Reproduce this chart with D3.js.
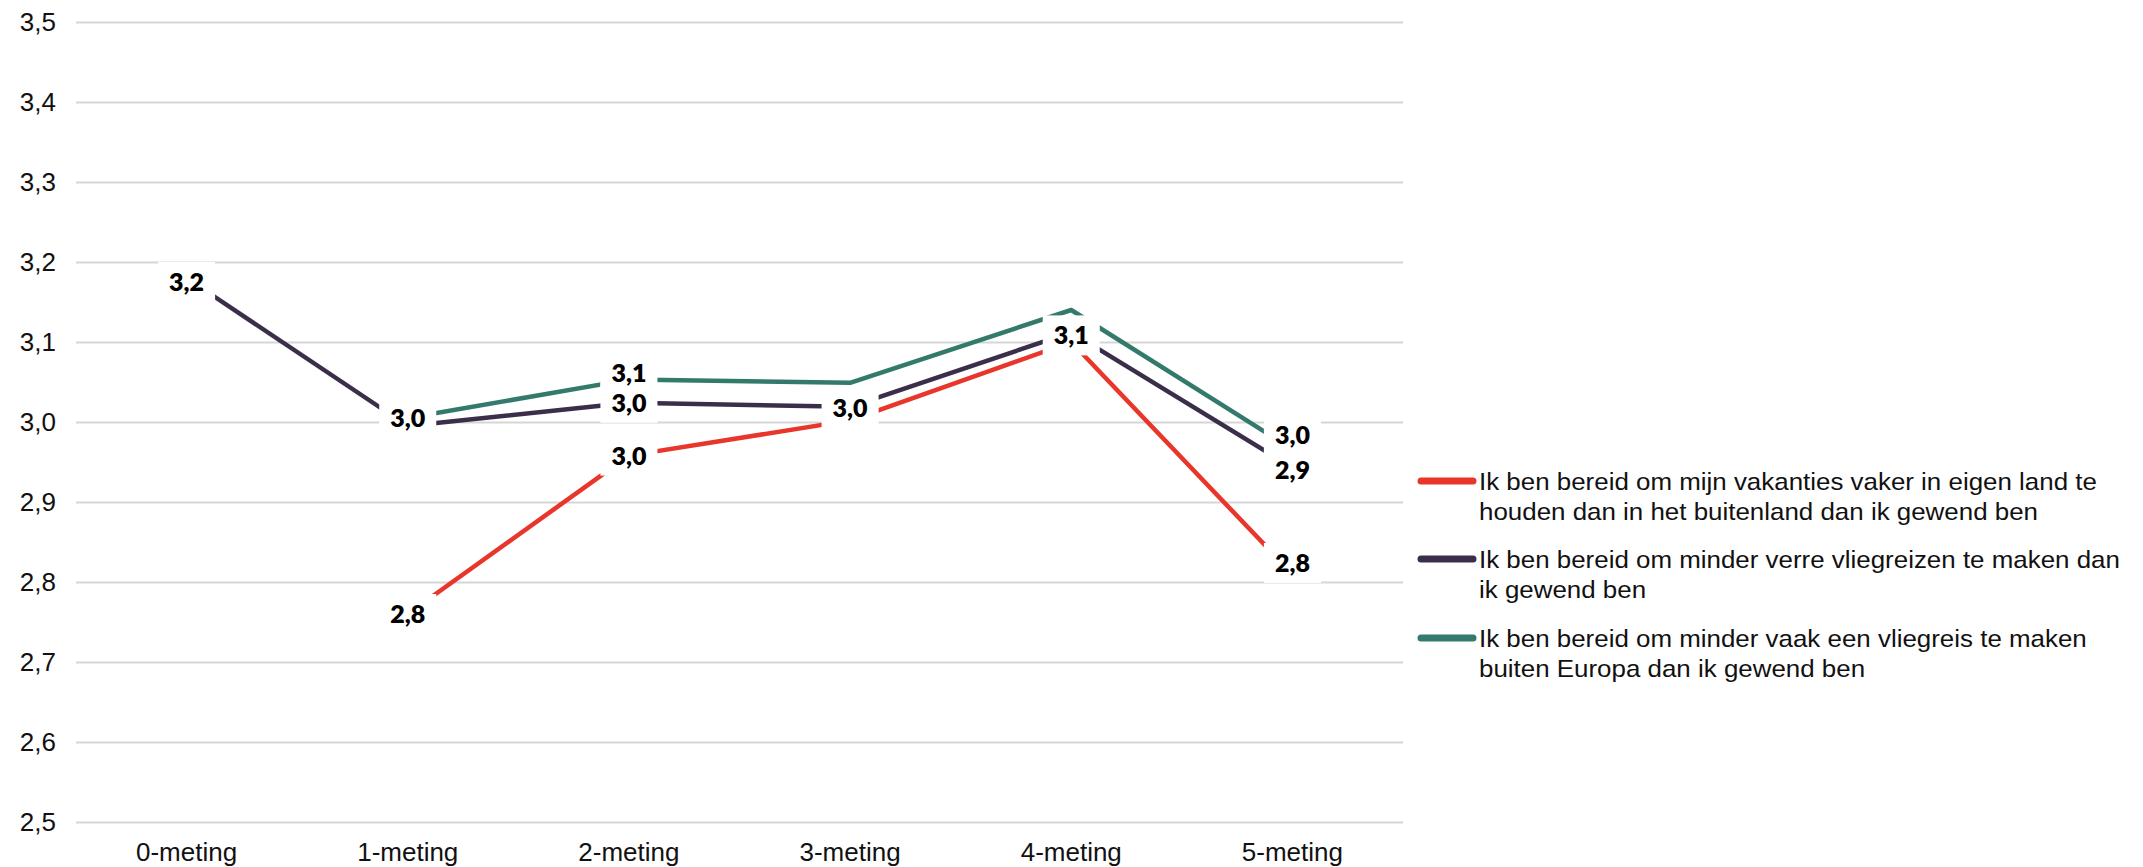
<!DOCTYPE html>
<html>
<head>
<meta charset="utf-8">
<script src="https://cdn.jsdelivr.net/npm/d3@7"></script>
<style>
  html, body { margin: 0; padding: 0; background: #ffffff; }
  svg { display: block; }
</style>
</head>
<body>
<svg id="chart" width="2143" height="867"></svg>
<script>
// ---------- DATA ----------
const categories = ["0-meting", "1-meting", "2-meting", "3-meting", "4-meting", "5-meting"];
const yTicks = [2.5, 2.6, 2.7, 2.8, 2.9, 3.0, 3.1, 3.2, 3.3, 3.4, 3.5];

const seriesNames = [
  "Ik ben bereid om mijn vakanties vaker in eigen land te houden dan in het buitenland dan ik gewend ben",
  "Ik ben bereid om minder verre vliegreizen te maken dan ik gewend ben",
  "Ik ben bereid om minder vaak een vliegreis te maken buiten Europa dan ik gewend ben"
];
const legendLines = [
  ["Ik ben bereid om mijn vakanties vaker in eigen land te", "houden dan in het buitenland dan ik gewend ben"],
  ["Ik ben bereid om minder verre vliegreizen te maken dan", "ik gewend ben"],
  ["Ik ben bereid om minder vaak een vliegreis te maken", "buiten Europa dan ik gewend ben"]
];

const valuesEigenLand   = [null, 2.76, 2.958, 3.002, 3.10, 2.81];
const valuesVerreReizen = [3.18, 2.995, 3.024, 3.019, 3.112, 2.943];
const valuesBuitenEU    = [null, 3.005, 3.053, 3.049, 3.14, 2.966];

// which data labels are shown (true) per series
const showEigenLand   = [false, true, true, false, false, true];
const showVerreReizen = [true, true, true, true, true, true];
const showBuitenEU    = [false, false, true, false, false, true];

// ---------- LAYOUT / STYLE ----------
const colors = ["#e8362b", "#3b2e4b", "#347a6c"];
// manual label nudges (px) per series per category
const labelNudge = [
  [0, 0, 0, 0, 0, -11],
  [4, -8, 0, 1, 3, 2],
  [0, 0, -7, 0, 0, -14]
];

const series = [
  { name: seriesNames[0], values: valuesEigenLand, show: showEigenLand, color: colors[0], nudge: labelNudge[0] },
  { name: seriesNames[1], values: valuesVerreReizen, show: showVerreReizen, color: colors[1], nudge: labelNudge[1] },
  { name: seriesNames[2], values: valuesBuitenEU, show: showBuitenEU, color: colors[2], nudge: labelNudge[2] }
];

const svg = d3.select("#chart");

const x = d3.scaleBand().domain(categories).range([76, 1403]);
const xc = c => x(c) + x.bandwidth() / 2;
const y = d3.scaleLinear().domain([2.5, 3.5]).range([822, 22]);

const axisFont = "'Liberation Sans', Arial, sans-serif";

// gridlines via axis
const gridAxis = d3.axisLeft(y).tickValues(yTicks).tickSize(-(1403 - 76)).tickFormat("");
const gridG = svg.append("g").attr("transform", "translate(1403,0)")
  .call(d3.axisRight(y).tickValues(yTicks).tickSize(-(1403 - 76)).tickFormat(""));
gridG.select(".domain").remove();
gridG.selectAll(".tick line").attr("stroke", "#d6d6d6").attr("stroke-width", 2);

// y tick labels
const yAxisG = svg.append("g").attr("transform", "translate(56,0)")
  .call(d3.axisLeft(y).tickValues(yTicks).tickSize(0).tickPadding(0)
    .tickFormat(d => d3.format(".1f")(d).replace(".", ",")));
yAxisG.select(".domain").remove();
yAxisG.selectAll("text")
  .attr("font-family", axisFont).attr("font-size", 26).attr("fill", "#111");

// x tick labels
const xAxisG = svg.append("g").attr("transform", "translate(0,843)")
  .call(d3.axisBottom(x).tickSize(0).tickPadding(0));
xAxisG.select(".domain").remove();
xAxisG.selectAll("text")
  .attr("font-family", axisFont).attr("font-size", 26).attr("fill", "#111")
  .attr("dy", "0.71em");

// lines
const line = d3.line()
  .defined(d => d.v !== null)
  .x(d => xc(d.c))
  .y(d => y(d.v));

series.forEach(s => {
  const pts = categories.map((c, i) => ({ c, v: s.values[i] }));
  svg.append("path")
    .datum(pts)
    .attr("d", line)
    .attr("fill", "none")
    .attr("stroke", s.color)
    .attr("stroke-width", 4.5)
    .attr("stroke-linejoin", "round");
});

// data labels with white boxes
const fmt = v => d3.format(".1f")(v).replace(".", ",");
const labels = [];
series.forEach(s => {
  categories.forEach((c, i) => {
    if (s.values[i] !== null && s.show[i]) {
      labels.push({ x: xc(c), y: y(s.values[i]) + s.nudge[i], t: fmt(s.values[i]) });
    }
  });
});

const labelFont = "Lato, 'Noto Sans', sans-serif";
const boxG = svg.append("g");
const textG = svg.append("g");
labels.forEach(l => {
  const t = textG.append("text")
    .attr("x", l.x).attr("y", l.y)
    .attr("text-anchor", "middle")
    .attr("dy", "0.36em")
    .attr("font-family", labelFont)
    .attr("font-weight", 800)
    .attr("font-size", 25)
    .attr("fill", "#000")
    .text(l.t);
  const w = t.node().getComputedTextLength();
  boxG.append("rect")
    .attr("x", l.x - w / 2 - 11)
    .attr("y", l.y - 20)
    .attr("width", w + 22)
    .attr("height", 40)
    .attr("fill", "#fff");
});

// legend
const legendG = svg.append("g");
const legendTop = [481, 559, 638];
series.forEach((s, i) => {
  legendG.append("line")
    .attr("x1", 1421).attr("x2", 1473)
    .attr("y1", legendTop[i]).attr("y2", legendTop[i])
    .attr("stroke", s.color).attr("stroke-width", 7)
    .attr("stroke-linecap", "round");
  const tg = legendG.append("g")
    .attr("transform", `translate(1479,${legendTop[i]}) scale(1.08,1)`);
  legendLines[i].forEach((ln, j) => {
    tg.append("text")
      .attr("x", 0).attr("y", 9 + j * 30)
      .attr("font-family", axisFont)
      .attr("font-size", 24)
      .attr("fill", "#111")
      .text(ln);
  });
});
</script>
</body>
</html>
